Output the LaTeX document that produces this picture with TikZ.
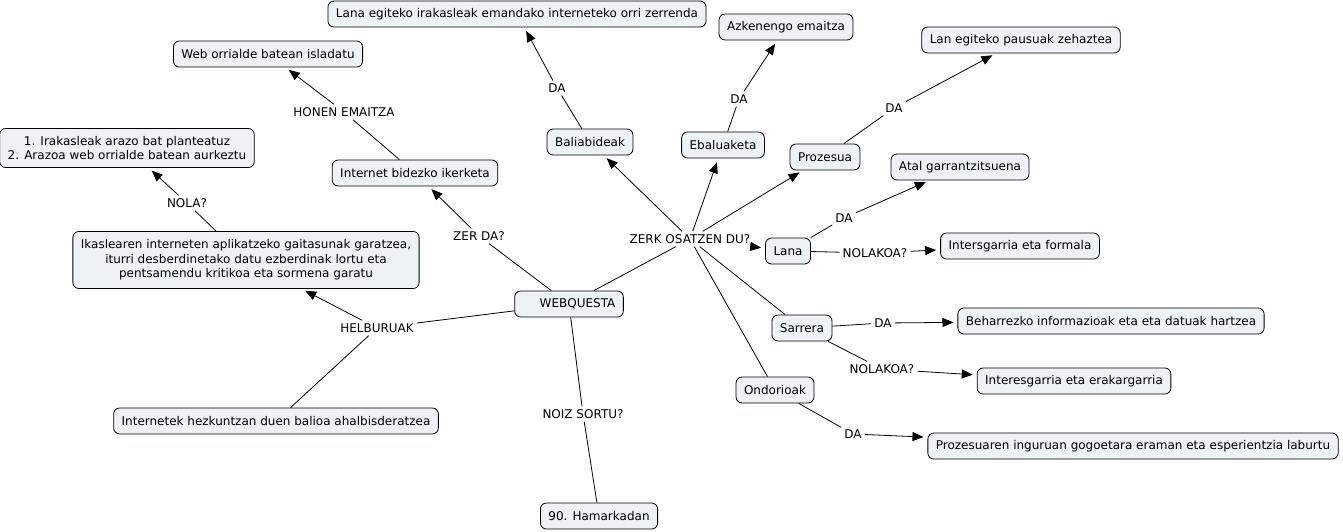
\documentclass[tikz,border=0pt]{standalone}
\usepackage{fontspec}
\setmainfont{DejaVu Sans}
\usetikzlibrary{arrows.meta}
\definecolor{boxfill}{HTML}{EDF3F5}
\tikzset{
  box/.style={draw=black, fill=boxfill, rounded corners=6pt, line width=0.8pt,
    inner xsep=8pt, inner ysep=0pt, minimum height=26pt, align=center,
    font=\fontsize{12}{14.5}\selectfont},
  lbl/.style={inner sep=3pt, font=\fontsize{12}{14.5}\selectfont},
  link/.style={line width=0.8pt},
  arr/.style={line width=0.8pt, -{Triangle[length=11pt,width=9pt]}, shorten >=4pt},
}
\begin{document}
\begin{tikzpicture}[x=1pt,y=-1pt]
\useasboundingbox (0,0) rectangle (1343,531);
% concept nodes
\node[box] (list) at (517,14) {Lana egiteko irakasleak emandako interneteko orri zerrenda};
\node[box] (azk) at (786,27) {Azkenengo emaitza};
\node[box] (lan) at (1021,40) {Lan egiteko pausuak zehaztea};
\node[box] (web) at (268,54) {Web orrialde batean isladatu};
\node[box, minimum height=39pt] (ira) at (127,148) {1. Irakasleak arazo bat planteatuz\\2. Arazoa web orrialde batean aurkeztu};
\node[box] (bal) at (590,142) {Baliabideak};
\node[box] (eba) at (723,145) {Ebaluaketa};
\node[box] (pro) at (825,157) {Prozesua};
\node[box] (ibi) at (415,173) {Internet bidezko ikerketa};
\node[box] (atal) at (960,167) {Atal garrantzitsuena};
\node[box, minimum height=57pt] (ika) at (246,260) {Ikaslearen interneten aplikatzeko gaitasunak garatzea,\\iturri desberdinetako datu ezberdinak lortu eta\\pentsamendu kritikoa eta sormena garatu};
\node[box] (lana) at (788,251) {Lana};
\node[box] (intf) at (1020,246) {Intersgarria eta formala};
\node[box] (wq) at (569,304) {\hspace{17pt}WEBQUESTA};
\node[box] (sar) at (802,328) {Sarrera};
\node[box] (beh) at (1111,321) {Beharrezko informazioak eta eta datuak hartzea};
\node[box] (ond) at (775,390) {Ondorioak};
\node[box] (inte) at (1074,381) {Interesgarria eta erakargarria};
\node[box] (hez) at (276,421) {Internetek hezkuntzan duen balioa ahalbisderatzea};
\node[box] (pzi) at (1133,446) {Prozesuaren inguruan gogoetara eraman eta esperientzia laburtu};
\node[box] (ham) at (599,516) {90. Hamarkadan};
% link labels
\node[lbl] (l1) at (557,88) {DA};
\node[lbl] (l2) at (344,112) {HONEN EMAITZA};
\node[lbl] (l3) at (739,99) {DA};
\node[lbl] (l4) at (894,108) {DA};
\node[lbl] (l5) at (187,203) {NOLA?};
\node[lbl] (l6) at (479,236) {ZER DA?};
\node[lbl] (l7) at (690,239) {ZERK OSATZEN DU?};
\node[lbl] (l8) at (844,218) {DA};
\node[lbl] (l9) at (875,253) {NOLAKOA?};
\node[lbl] (l10) at (377,328) {HELBURUAK};
\node[lbl] (l11) at (883,323) {DA};
\node[lbl] (l12) at (882,369) {NOLAKOA?};
\node[lbl] (l13) at (583,414) {NOIZ SORTU?};
\node[lbl] (l14) at (853,434) {DA};
% connectors
\draw[link] (wq) -- (l6); \draw[arr] (l6) -- (ibi);
\draw[link] (ibi) -- (l2); \draw[arr] (l2) -- (web);
\draw[link] (wq) -- (l10); \draw[arr] (l10) -- (ika); \draw[link] (l10) -- (hez);
\draw[link] (ika) -- (l5); \draw[arr] (l5) -- (ira);
\draw[link] (wq) -- (l13); \draw[link] (l13) -- (ham);
\draw[link] (wq) -- (l7);
\draw[arr] (l7) -- (bal);
\draw[arr] (l7) -- (eba);
\draw[arr] (l7) -- (pro);
\draw[arr] (l7) -- (lana);
\draw[link] (l7) -- (sar);
\draw[link] (l7) -- (ond);
\draw[link] (bal) -- (l1); \draw[arr] (l1) -- (list);
\draw[link] (eba) -- (l3); \draw[arr] (l3) -- (azk);
\draw[link] (pro) -- (l4); \draw[arr] (l4) -- (lan);
\draw[link] (lana) -- (l8); \draw[arr] (l8) -- (atal);
\draw[link] (lana) -- (l9); \draw[arr] (l9) -- (intf);
\draw[link] (sar) -- (l11); \draw[arr] (l11) -- (beh);
\draw[link] (sar) -- (l12); \draw[arr] (l12) -- (inte);
\draw[link] (ond) -- (l14); \draw[arr] (l14) -- (pzi);
\end{tikzpicture}
\end{document}
